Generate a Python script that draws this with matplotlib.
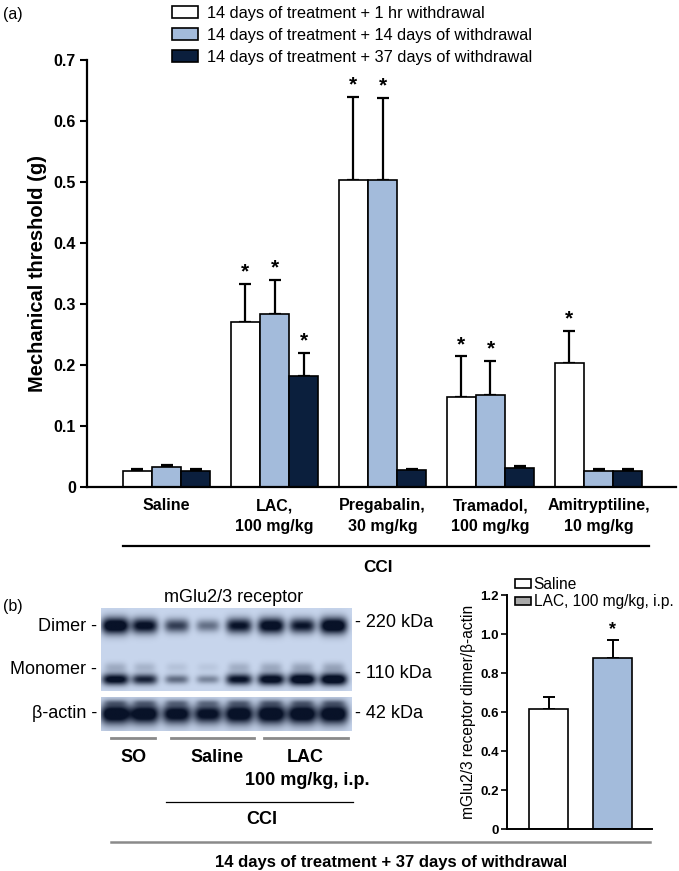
import numpy as np
import matplotlib
matplotlib.use("Agg")
from matplotlib import pyplot as plt
from matplotlib.patches import Patch
from matplotlib.lines import Line2D

plt.rcParams['font.family'] = ['Liberation Sans', 'DejaVu Sans']

# ---- panel (a) data ----
groups = ["Saline", "LAC,\n100 mg/kg", "Pregabalin,\n30 mg/kg",
          "Tramadol,\n100 mg/kg", "Amitryptiline,\n10 mg/kg"]
series_names = ["14 days of treatment + 1 hr withdrawal",
                "14 days of treatment + 14 days of withdrawal",
                "14 days of treatment + 37 days of withdrawal"]
vals_1hr = [0.027, 0.271, 0.503, 0.147, 0.203]
vals_14d = [0.033, 0.284, 0.503, 0.150, 0.027]
vals_37d = [0.027, 0.182, 0.028, 0.031, 0.027]
err_1hr = [0.003, 0.062, 0.136, 0.067, 0.053]
err_14d = [0.003, 0.055, 0.135, 0.057, 0.002]
err_37d = [0.002, 0.038, 0.002, 0.003, 0.002]
sig_1hr = [False, True, True, True, True]
sig_14d = [False, True, True, True, False]
sig_37d = [False, True, False, False, False]

# ---- panel (b) data ----
blot_groups = ["SO", "Saline", "LAC"]
dimer_int = [1.0, 0.85, 0.6, 0.4, 0.8, 0.92, 0.78, 1.0]
monomer_int = [0.88, 0.72, 0.42, 0.32, 0.82, 0.92, 1.0, 1.0]
actin_int = [1.0, 0.97, 0.92, 0.88, 0.97, 1.0, 1.0, 1.0]
quant_labels = ["Saline", "LAC, 100 mg/kg, i.p."]
quant_vals = [0.617, 0.878]
quant_err = [0.062, 0.091]
quant_sig = [False, True]

W, H = 679, 871
WHITE, BLUE, NAVY = "#ffffff", "#a3bbdb", "#0b1f3d"


def fx(x):
    return x / W


def fy(y):
    return 1 - y / H


fig = plt.figure(figsize=(W / 100, H / 100), dpi=100)

# ================= panel (a) =================
ax = fig.add_axes([fx(87), fy(487), fx(676) - fx(87), fy(60) - fy(487)])
bw = 0.27
xg = np.arange(len(groups))
cols = [WHITE, BLUE, NAVY]
allv = [vals_1hr, vals_14d, vals_37d]
alle = [err_1hr, err_14d, err_37d]
alls = [sig_1hr, sig_14d, sig_37d]
for i in range(3):
    xs = xg + (i - 1) * bw
    ax.bar(xs, allv[i], bw, color=cols[i], edgecolor="black", linewidth=1.2,
           label=series_names[i], zorder=2)
    ax.errorbar(xs, allv[i], yerr=[np.zeros(5), alle[i]], fmt="none",
                ecolor="black", elinewidth=1.6, capsize=4.5, capthick=1.6, zorder=1)
    for x, v, e, s in zip(xs, allv[i], alle[i], alls[i]):
        if s:
            ax.text(x, v + e + 0.004, "*", ha="center", va="bottom",
                    fontsize=15, fontweight="bold")
ax.set_xlim((87 - 166.5) / 108, (676 - 166.5) / 108)
ax.set_ylim(0, 0.7)
ax.set_yticks(np.arange(0, 0.71, 0.1))
ax.set_yticklabels(["0", "0.1", "0.2", "0.3", "0.4", "0.5", "0.6", "0.7"],
                   fontsize=11.5, fontweight="bold")
ax.set_xticks(xg)
ax.set_xticklabels(groups, fontsize=11.5, fontweight="bold", linespacing=1.5)
ax.tick_params(axis="x", length=0, pad=8)
ax.tick_params(axis="y", length=5, width=1.5, pad=3)
for s in ["top", "right"]:
    ax.spines[s].set_visible(False)
for s in ["left", "bottom"]:
    ax.spines[s].set_linewidth(1.6)
ax.set_ylabel("Mechanical threshold (g)", fontsize=14.5, fontweight="bold", labelpad=5)
ax.legend(loc="upper left", bbox_to_anchor=(fx(172), fy(6)),
          bbox_transform=fig.transFigure, frameon=False, fontsize=11.8,
          handlelength=1.6, handleheight=0.75, handletextpad=0.55,
          labelspacing=0.42, borderpad=0, borderaxespad=0)

fig.add_artist(Line2D([fx(123), fx(649)], [fy(546), fy(546)], color="black", lw=1.6))
fig.text(fx(378), fy(567), "CCI", ha="center", va="center", fontsize=12.3, fontweight="bold")
fig.text(fx(3), fy(15), "(a)", ha="left", va="center", fontsize=11.5)
fig.text(fx(3), fy(607), "(b)", ha="left", va="center", fontsize=11.5)

# ================= blot =================
bg = np.array([200, 214, 237]) / 255.0
dark = np.array([8, 18, 40]) / 255.0


def blot(height, width, rows, lane_x, x0, y0):
    yy, xx = np.mgrid[0:height, 0:width]
    d = np.zeros((height, width))
    for cy, ints, hw, hh in rows:
        for cx, a in zip(lane_x, ints):
            d += 1.3 * a * np.exp(-(((xx + x0) - cx) / (hw * (0.8 + 0.25 * a))) ** 4
                                  - (((yy + y0) - cy) / (hh * (0.6 + 0.5 * a))) ** 2)
    d = np.clip(d, 0, 1)
    return bg[None, None, :] * (1 - d[..., None]) + dark[None, None, :] * d[..., None]


lane_x = [115, 144, 176, 207, 238, 270, 301, 332]
faint = [0.18 * v for v in monomer_int]
img1 = blot(83, 250, [(626, dimer_int, 13, 7.5), (679, monomer_int, 13, 5.5),
                      (667, faint, 13, 7)], lane_x, 101, 608)
img2 = blot(34, 250, [(714, actin_int, 14, 9), (703, [0.2] * 8, 13, 4)],
            lane_x, 101, 697)
b1 = fig.add_axes([fx(101), fy(691), fx(351) - fx(101), fy(608) - fy(691)])
b1.imshow(img1, aspect="auto", interpolation="bilinear")
b1.axis("off")
b2 = fig.add_axes([fx(101), fy(731), fx(351) - fx(101), fy(697) - fy(731)])
b2.imshow(img2, aspect="auto", interpolation="bilinear")
b2.axis("off")

fig.text(fx(234), fy(598), "mGlu2/3 receptor", ha="center", va="center", fontsize=13)
fig.text(fx(97), fy(626), "Dimer -", ha="right", va="center", fontsize=13)
fig.text(fx(97), fy(669), "Monomer -", ha="right", va="center", fontsize=13)
fig.text(fx(97), fy(714), "\u03b2-actin -", ha="right", va="center", fontsize=13)
fig.text(fx(355), fy(622), "- 220 kDa", ha="left", va="center", fontsize=13)
fig.text(fx(355), fy(674), "- 110 kDa", ha="left", va="center", fontsize=13)
fig.text(fx(355), fy(714), "- 42 kDa", ha="left", va="center", fontsize=13)

for (x0, x1), name, xc in zip([(111, 155), (171, 254), (264, 348)], blot_groups,
                              [134, 217, 305]):
    fig.add_artist(Line2D([fx(x0), fx(x1)], [fy(738), fy(738)], color="#8a8a8a", lw=2))
    fig.text(fx(xc), fy(757), name, ha="center", va="center", fontsize=13,
             fontweight="bold")
fig.text(fx(307), fy(780), "100 mg/kg, i.p.", ha="center", va="center",
         fontsize=13, fontweight="bold")
fig.add_artist(Line2D([fx(166), fx(353)], [fy(802), fy(802)], color="black", lw=0.9))
fig.text(fx(262), fy(819), "CCI", ha="center", va="center", fontsize=13,
         fontweight="bold")
fig.add_artist(Line2D([fx(111), fx(650)], [fy(842), fy(842)], color="#8a8a8a", lw=1.8))
fig.text(fx(391), fy(862), "14 days of treatment + 37 days of withdrawal",
         ha="center", va="center", fontsize=12, fontweight="bold")

# ================= panel (b) quantification =================
qa = fig.add_axes([fx(507), fy(829), fx(652) - fx(507), fy(595) - fy(829)])
qx = np.arange(len(quant_vals))
qa.bar(qx, quant_vals, 0.61, color=[WHITE, BLUE], edgecolor="black",
       linewidth=1.2, zorder=2)
qa.errorbar(qx, quant_vals, yerr=[np.zeros(2), quant_err], fmt="none",
            ecolor="black", elinewidth=1.4, capsize=4.5, capthick=1.4, zorder=1)
for x, v, e, s in zip(qx, quant_vals, quant_err, quant_sig):
    if s:
        qa.text(x, v + e + 0.01, "*", ha="center", va="bottom", fontsize=13,
                fontweight="bold")
qa.set_xlim((507 - 548.5) / 64, (652 - 548.5) / 64)
qa.set_ylim(0, 1.2)
qa.set_yticks(np.arange(0, 1.21, 0.2))
qa.set_yticklabels(["0", "0.2", "0.4", "0.6", "0.8", "1.0", "1.2"],
                   fontsize=9.5, fontweight="bold")
qa.set_xticks([])
qa.tick_params(axis="y", length=4, width=1.2, pad=2)
for s in ["top", "right"]:
    qa.spines[s].set_visible(False)
for s in ["left", "bottom"]:
    qa.spines[s].set_linewidth(1.4)
qa.set_ylabel("mGlu2/3 receptor dimer/\u03b2-actin", fontsize=11.2, labelpad=3)
handles = [Patch(facecolor=WHITE, edgecolor="black", linewidth=1.2),
           Patch(facecolor="#a9a9a9", edgecolor="black", linewidth=1.2)]
qa.legend(handles, quant_labels, loc="upper left", bbox_to_anchor=(fx(515), fy(577)),
          bbox_transform=fig.transFigure, frameon=False, fontsize=11.2,
          handlelength=1.05, handleheight=0.45, handletextpad=0.15,
          labelspacing=0.15, borderpad=0, borderaxespad=0)

fig.savefig("out.png", dpi=100)
